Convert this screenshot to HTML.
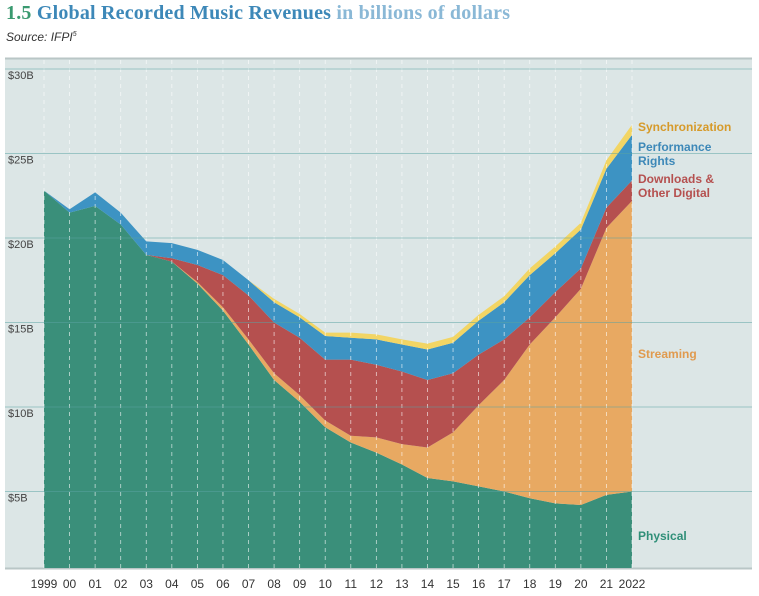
<!DOCTYPE html>
<html><head><meta charset="utf-8"><style>
body{margin:0;background:#fff;font-family:"Liberation Sans",sans-serif;}
#wrap{position:relative;width:759px;height:596px;overflow:hidden}
</style></head><body>
<div id="wrap">
<div style="position:absolute;left:6px;top:2px;font-family:'Liberation Serif',serif;font-weight:bold;font-size:20px;letter-spacing:0.2px;white-space:nowrap"><span style="color:#3a9a70">1.5</span> <span style="color:#3d88b8">Global Recorded Music Revenues</span> <span style="color:#8ab8d6">in billions of dollars</span></div>
<div style="position:absolute;left:6px;top:30px;font-size:12px;font-style:italic;color:#333">Source: IFPI<sup style="font-size:7px">5</sup></div>
<svg id="c" width="759" height="596" style="position:absolute;left:0;top:0"></svg>
</div>
<script>
const years=["1999","00","01","02","03","04","05","06","07","08","09","10","11","12","13","14","15","16","17","18","19","20","21","2022"];
const physical=[22.8,21.5,21.9,20.8,19.0,18.6,17.3,15.7,13.7,11.6,10.3,8.8,7.9,7.3,6.6,5.8,5.6,5.3,5.0,4.6,4.3,4.2,4.8,5.0];
const streaming=[0,0,0,0,0,0,0.1,0.2,0.3,0.4,0.4,0.4,0.4,0.9,1.2,1.8,2.9,4.8,6.6,9.1,11.0,12.8,15.8,17.2];
const downloads=[0,0,0,0,0,0.2,1.0,1.9,2.6,3.0,3.4,3.6,4.5,4.3,4.3,4.0,3.5,3.0,2.4,1.6,1.5,1.2,1.2,1.2];
const performance=[0,0.2,0.8,0.7,0.8,0.9,0.9,0.9,0.9,1.2,1.2,1.4,1.3,1.5,1.6,1.8,1.8,2.0,2.2,2.5,2.3,2.3,2.3,2.7];
const sync=[0,0,0,0,0,0,0,0,0,0.2,0.2,0.2,0.3,0.3,0.3,0.35,0.35,0.35,0.35,0.4,0.4,0.4,0.5,0.6];
const yTicks=[5,10,15,20,25,30];
const NS="http://www.w3.org/2000/svg",svg=document.getElementById('c');
const x0=44,x1=632,yBase=576,yTop30=69;
const X=i=>x0+(x1-x0)*i/(years.length-1);
const Y=v=>yBase-(yBase-yTop30)*v/30;
function mk(t,a){const e=document.createElementNS(NS,t);for(const k in a)e.setAttribute(k,a[k]);svg.appendChild(e);return e;}
let e=mk('rect',{x:5,y:58,width:747,height:510,fill:'#dce6e6'});


mk('line',{x1:5,y1:58.5,x2:752,y2:58.5,stroke:'#b9c6c6','stroke-width':2});
mk('line',{x1:5,y1:568.5,x2:752,y2:568.5,stroke:'#b9c6c6','stroke-width':2});
const series=[["physical",physical,"#3a8f7a"],["streaming",streaming,"#e8a962"],["downloads",downloads,"#b5504f"],["performance-rights",performance,"#3d93c3"],["synchronization",sync,"#f2d564"]];
let cum=years.map(()=>0);
series.forEach(([n,arr,col])=>{
  const lo=cum.slice();cum=cum.map((c,i)=>c+arr[i]);
  let d="M"+years.map((_,i)=>X(i)+","+Y(cum[i])).join(" L");
  for(let i=years.length-1;i>=0;i--)d+=" L"+X(i)+","+(n==="physical"?568:Y(lo[i]));
  const p=mk('path',{d:d+"Z",fill:col});
  
  
});
years.forEach((y,i)=>{
  const l=mk('line',{x1:X(i),y1:60,x2:X(i),y2:568,stroke:'#fff','stroke-width':0.8,'stroke-dasharray':'4,4',opacity:0.7});
  
  
  const t=mk('text',{x:X(i),y:588,'text-anchor':'middle','font-size':12,fill:'#333'});t.textContent=y;
  
  
});
yTicks.forEach(v=>{
  const l=mk('line',{x1:5,y1:Y(v),x2:752,y2:Y(v),stroke:'#5aa3a3','stroke-width':1,opacity:0.5});
  
  
  const t=mk('text',{x:8,y:Y(v)+10,'font-size':11,fill:'#444'});t.textContent='$'+v+'B';
  
  
});
const labels=[["Synchronization",131,"#d69a2a"],["Performance",151,"#3d88b8"],["Rights",165,"#3d88b8"],["Downloads &",183,"#b5504f"],["Other Digital",197,"#b5504f"],["Streaming",358,"#e09a4e"],["Physical",540,"#2f8f78"]];
labels.forEach(([s,y,c])=>{
  const t=mk('text',{x:638,y:y,'font-size':12,'font-weight':'bold',fill:c});t.textContent=s;
  
  
});
</script>
</body></html>
